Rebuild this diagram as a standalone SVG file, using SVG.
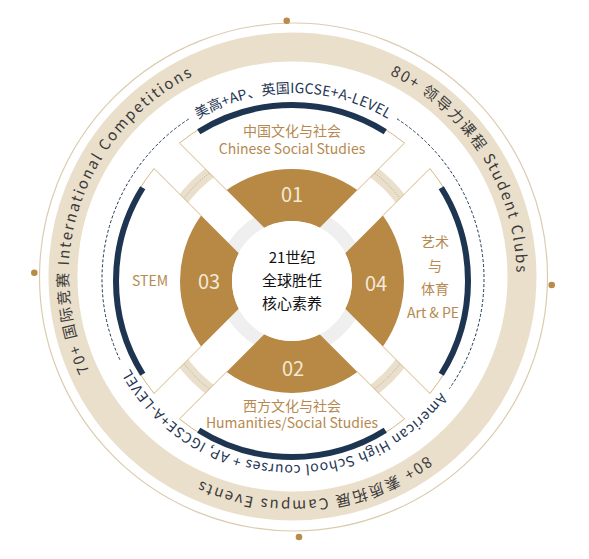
<svg xmlns="http://www.w3.org/2000/svg" width="589" height="559" viewBox="0 0 589 559">
<style>
 text{font-family:"Noto Sans CJK SC","Noto Sans",sans-serif}
 .ring{font-size:15px;fill:#3a3a3a;letter-spacing:1.9px}
 .dash{font-size:14px;fill:#1e3552}
 .lbl{font-size:14px;fill:#b5894f;text-anchor:middle}
 .num{font-size:20px;fill:#f2e8d6;text-anchor:middle;dominant-baseline:central}
 .ctr{font-size:15px;fill:#111;text-anchor:middle}
 .gold{fill:#b88944}
 .fan{fill:#fff}
 .fanO{fill:none;stroke:#d6b783;stroke-width:1}
 .nv{fill:none;stroke:#1e3552;stroke-width:6}
 .dot{fill:#b98a4a}
</style>
<defs>
 <path id="gs" d="M226.57,190.10 A112,112 0 0 1 357.43,190.10 L319.67,227.76 A60,60 0 0 0 264.33,227.76 Z"/>
 <path id="fan" d="M179.5,143.05 A178,178 0 0 1 404.5,143.05 L357.43,190.10 A112,112 0 0 0 226.57,190.10 Z"/>
 <path id="fanO" d="M357.43,190.10 L404.5,143.05 A178,178 0 0 0 179.5,143.05 L226.57,190.10"/>
 <path id="nv" d="M198.73,131.75 A176,176 0 0 1 385.27,131.75"/>
 <path id="pRing" d="M292.5,52.5 A224,224 0 1 1 292.5,500.5 A224,224 0 1 1 292.5,52.5"/>
 <path id="pTop" d="M293,465 A186,186 0 1 1 293,93 A186,186 0 1 1 293,465"/>
 <path id="pBot" d="M293,93 A186,186 0 1 1 293,465 A186,186 0 1 1 293,93"/>
</defs>
<g id="outer-ring">
 <circle cx="293.5" cy="277" r="254" fill="none" stroke="#dccbb0" stroke-width="1.2"/>
 <circle class="dot" cx="286.7" cy="20.7" r="3.3"/>
 <circle class="dot" cx="34.3" cy="272.7" r="3.3"/>
 <circle class="dot" cx="551.7" cy="285" r="3.3"/>
 <circle class="dot" cx="299" cy="537" r="3.3"/>
 <circle cx="292.5" cy="276.5" r="229.5" fill="none" stroke="#eadfcb" stroke-width="29"/>
 <text class="ring"><textPath href="#pRing" startOffset="80.4%" text-anchor="middle">70+ 国际竞赛 International Competitions</textPath></text>
 <text class="ring"><textPath href="#pRing" startOffset="16%" text-anchor="middle">80+ 领导力课程 Student Clubs</textPath></text>
 <text class="ring"><textPath href="#pRing" startOffset="48.3%" text-anchor="middle">80+ 素质拓展 Campus Events</textPath></text>
</g>
<g id="curriculum-ring">
 <path d="M397.02,118.81 A191,191 0 0 1 449.46,388.55 M119.89,359.72 A191,191 0 0 1 188.98,118.81" fill="none" stroke="#1e3552" stroke-width="1" stroke-dasharray="3 2"/>
 <text class="dash" letter-spacing="0.2"><textPath href="#pTop" startOffset="50%" text-anchor="middle">美高+AP、英国IGCSE+A-LEVEL</textPath></text>
 <text class="dash" letter-spacing="0.75"><textPath href="#pBot" startOffset="51.25%" text-anchor="middle">American High School courses + AP, IGCSE+A-LEVEL</textPath></text>
</g>
<g id="inner-rings">
 <circle cx="292" cy="281" r="136" fill="none" stroke="#eadfcb" stroke-width="12"/>
 <circle cx="292" cy="281" r="136" fill="none" stroke="#9a9a9a" stroke-width="0.8" stroke-dasharray="1 1.5"/>
 <circle cx="292" cy="281" r="67" fill="none" stroke="#efefef" stroke-width="14"/>
</g>
<g id="node-01">
 <use href="#fan" class="fan"/><use href="#fanO" class="fanO"/><use href="#nv" class="nv"/><use href="#gs" class="gold"/>
 <text class="lbl" x="292" y="136">中国文化与社会</text>
 <text class="lbl" x="292" y="154">Chinese Social Studies</text>
 <text class="num" x="292" y="193">01</text>
</g>
<g id="node-04">
 <g transform="rotate(90 292 281)"><use href="#fan" class="fan"/><use href="#fanO" class="fanO"/><use href="#nv" class="nv"/><use href="#gs" class="gold"/></g>
 <text class="lbl" x="435" y="247">艺术</text>
 <text class="lbl" x="435" y="271">与</text>
 <text class="lbl" x="435" y="294">体育</text>
 <text class="lbl" x="433" y="318">Art &amp; PE</text>
 <text class="num" x="376" y="282">04</text>
</g>
<g id="node-02">
 <g transform="rotate(180 292 281)"><use href="#fan" class="fan"/><use href="#fanO" class="fanO"/><use href="#nv" class="nv"/><use href="#gs" class="gold"/></g>
 <text class="lbl" x="292" y="411">西方文化与社会</text>
 <text class="lbl" x="292" y="428">Humanities/Social Studies</text>
 <text class="num" x="293" y="367">02</text>
</g>
<g id="node-03">
 <g transform="rotate(270 292 281)"><use href="#fan" class="fan"/><use href="#fanO" class="fanO"/><use href="#nv" class="nv"/><use href="#gs" class="gold"/></g>
 <text class="lbl" x="150" y="286">STEM</text>
 <text class="num" x="209" y="280">03</text>
</g>
<g id="center">
 <circle cx="292" cy="281" r="60" fill="#fff"/>
 <text class="ctr" x="292" y="262.5">21世纪</text>
 <text class="ctr" x="292" y="285.5">全球胜任</text>
 <text class="ctr" x="292" y="308.5">核心素养</text>
</g>
</svg>
